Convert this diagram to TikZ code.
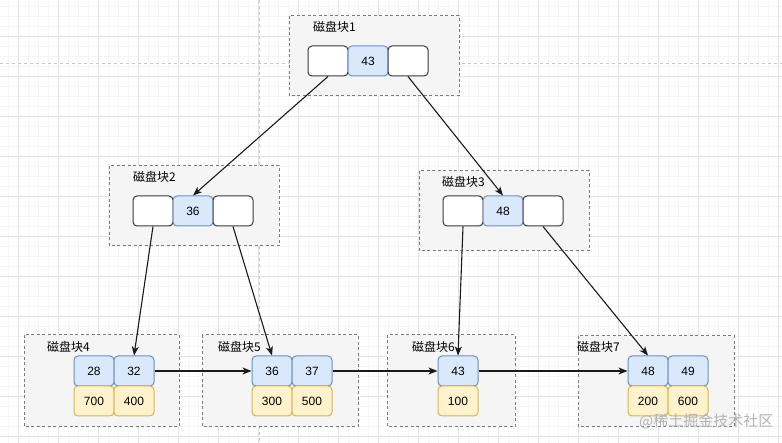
\documentclass[tikz,border=0pt]{standalone}
\usepackage{fontspec}
\setmainfont{Liberation Sans}
\newfontfamily\cjk{Noto Sans CJK SC}
\usetikzlibrary{arrows.meta}
\definecolor{minorgrid}{HTML}{F5F5F5}
\definecolor{majorgrid}{HTML}{E3E3E3}
\definecolor{guide}{HTML}{C8C8C8}
\definecolor{boxfill}{HTML}{F5F5F5}
\definecolor{boxline}{HTML}{7A7A7A}
\definecolor{bluefill}{HTML}{DAE8FC}
\definecolor{blueline}{HTML}{6C8EBF}
\definecolor{yelfill}{HTML}{FFF2CC}
\definecolor{yelline}{HTML}{D6B656}
\definecolor{cellline}{HTML}{36393D}
\definecolor{edge}{HTML}{1A1A1A}
\definecolor{wmark}{HTML}{B4B4B4}
\tikzset{
  cellbase/.style={minimum width=40pt,minimum height=30pt,inner sep=0pt,rounded corners=4pt,line width=1pt,font=\fontsize{12}{14}\selectfont},
  whitecell/.style={cellbase,draw=cellline,fill=white},
  bluecell/.style={cellbase,draw=blueline,fill=bluefill},
  yelcell/.style={cellbase,draw=yelline,fill=yelfill},
  diskbox/.style={draw=boxline,fill=boxfill,line width=1pt,dash pattern=on 3pt off 2.5pt},
  disklabel/.style={anchor=west,inner sep=0pt,font=\cjk\fontsize{12}{14}\selectfont},
  link/.style={draw=edge,line width=1.1pt,-{Stealth[length=9pt,width=7pt,inset=2.5pt]}},
}
\begin{document}
\begin{tikzpicture}[x=1pt,y=-1pt]
\useasboundingbox (0,0) rectangle (782,443);
\fill[white] (0,0) rectangle (782,443);
% grid
\foreach \x in {8,18,...,778} \draw[minorgrid,line width=0.6pt] (\x,0) -- (\x,443);
\foreach \y in {6,16,...,440} \draw[minorgrid,line width=0.6pt] (0,\y) -- (782,\y);
\foreach \x in {18,58,...,778} \draw[majorgrid,line width=0.8pt] (\x,0) -- (\x,443);
\foreach \y in {36,76,...,440} \draw[majorgrid,line width=0.8pt] (0,\y) -- (782,\y);
% guides
\draw[guide,line width=0.9pt,dash pattern=on 3pt off 3pt] (259,0) -- (259,443);
\draw[guide,line width=0.9pt,dash pattern=on 3pt off 3pt] (0,63) -- (782,63);
% disk boxes
\draw[diskbox] (289,16) rectangle (459,96);
\draw[diskbox] (109,166) rectangle (279,246);
\draw[diskbox] (419,171) rectangle (589,251);
\draw[diskbox] (24,335) rectangle (179,427);
\draw[diskbox] (202,335) rectangle (358,427);
\draw[diskbox] (387,335) rectangle (515,427);
\draw[diskbox] (578,336) rectangle (734,427);
% labels
\node[disklabel] (l1) at (313,27) {磁盘块1};
\node[disklabel] (l2) at (133,177) {磁盘块2};
\node[disklabel] (l3) at (442,182) {磁盘块3};
\node[disklabel] (l4) at (47,347) {磁盘块4};
\node[disklabel] (l5) at (218,347) {磁盘块5};
\node[disklabel] (l6) at (412,347) {磁盘块6};
\node[disklabel] (l7) at (577,347) {磁盘块7};
% block 1
\node[whitecell] (b1l) at (328,61) {};
\node[bluecell] (b1m) at (368,61) {43};
\node[whitecell] (b1r) at (408,61) {};
% block 2
\node[whitecell] (b2l) at (153,211) {};
\node[bluecell] (b2m) at (193,211) {36};
\node[whitecell] (b2r) at (233,211) {};
% block 3
\node[whitecell] (b3l) at (463,211) {};
\node[bluecell] (b3m) at (503,211) {48};
\node[whitecell] (b3r) at (543,211) {};
% block 4
\node[bluecell] (b4a) at (94,371) {28};
\node[bluecell] (b4b) at (134,371) {32};
\node[yelcell] (b4c) at (94,401) {700};
\node[yelcell] (b4d) at (134,401) {400};
% block 5
\node[bluecell] (b5a) at (272,371) {36};
\node[bluecell] (b5b) at (312,371) {37};
\node[yelcell] (b5c) at (272,401) {300};
\node[yelcell] (b5d) at (312,401) {500};
% block 6
\node[bluecell] (b6a) at (458,371) {43};
\node[yelcell] (b6c) at (458,401) {100};
% block 7
\node[bluecell] (b7a) at (648,371) {48};
\node[bluecell] (b7b) at (688,371) {49};
\node[yelcell] (b7c) at (648,401) {200};
\node[yelcell] (b7d) at (688,401) {600};
% links
\draw[link] (b1l.south) -- (b2m.north);
\draw[link] (b1r.south) -- (b3m.north);
\draw[link] (b2l.south) -- (b4b.north);
\draw[link] (b2r.south) -- (b5a.north);
\draw[link] (b3l.south) -- (b6a.north);
\draw[link] (b3r.south) -- (b7a.north);
\draw[link] (b4b.east) -- (b5a.west);
\draw[link] (b5b.east) -- (b6a.west);
\draw[link] (b6a.east) -- (b7a.west);
% watermark
\node[anchor=west,inner sep=0pt,text=wmark,font=\cjk\fontsize{15}{17}\selectfont] (wm) at (639,421) {@稀土掘金技术社区};
\end{tikzpicture}
\end{document}
